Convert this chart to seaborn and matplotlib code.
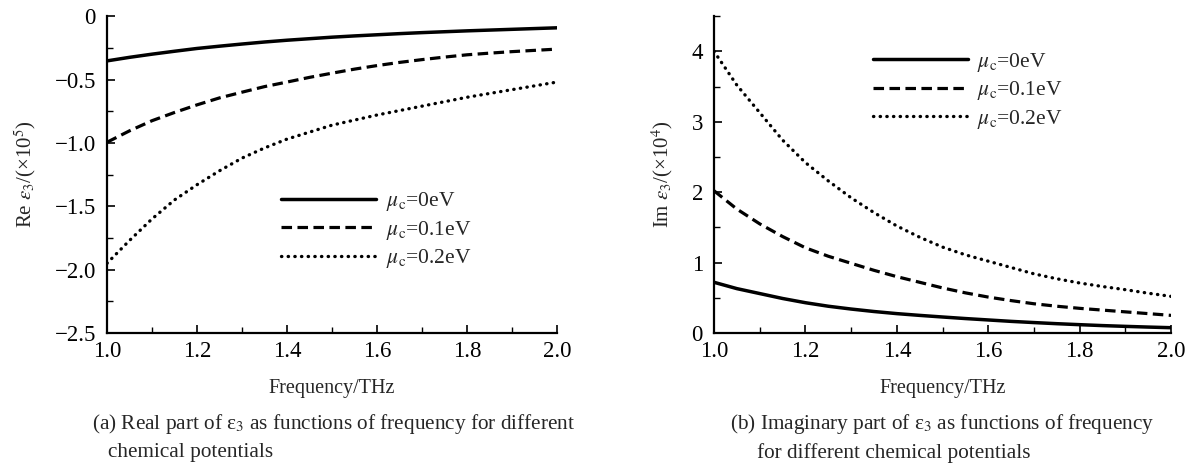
import numpy as np
import pandas as pd
import matplotlib
matplotlib.use("Agg")
import matplotlib.pyplot as plt
from matplotlib.ticker import MultipleLocator, FormatStrFormatter, FuncFormatter
import seaborn as sns

freq = [1.0, 1.05, 1.1, 1.15, 1.2, 1.25, 1.3, 1.35, 1.4, 1.45, 1.5,
        1.55, 1.6, 1.65, 1.7, 1.75, 1.8, 1.85, 1.9, 1.95, 2.0]
re_mu0 = [-0.353, -0.325, -0.30, -0.277, -0.255, -0.237, -0.22, -0.204, -0.19, -0.178, -0.166,
          -0.156, -0.147, -0.138, -0.130, -0.123, -0.116, -0.110, -0.104, -0.098, -0.092]
re_mu1 = [-0.995, -0.905, -0.825, -0.76, -0.70, -0.645, -0.60, -0.556, -0.52, -0.483, -0.45,
          -0.418, -0.39, -0.365, -0.343, -0.323, -0.305, -0.292, -0.28, -0.27, -0.26]
re_mu2 = [-1.95, -1.77, -1.60, -1.45, -1.33, -1.22, -1.12, -1.04, -0.97, -0.915, -0.86,
          -0.82, -0.78, -0.745, -0.71, -0.675, -0.64, -0.61, -0.58, -0.55, -0.52]
im_mu0 = [0.72, 0.63, 0.56, 0.49, 0.43, 0.38, 0.34, 0.305, 0.275, 0.25, 0.227,
          0.205, 0.185, 0.165, 0.148, 0.132, 0.118, 0.105, 0.094, 0.084, 0.075]
im_mu1 = [2.02, 1.76, 1.55, 1.37, 1.21, 1.09, 0.99, 0.89, 0.80, 0.72, 0.64,
          0.57, 0.51, 0.46, 0.415, 0.38, 0.35, 0.325, 0.30, 0.275, 0.25]
im_mu2 = [4.0, 3.52, 3.13, 2.74, 2.42, 2.16, 1.92, 1.71, 1.52, 1.36, 1.22,
          1.11, 1.02, 0.93, 0.84, 0.77, 0.71, 0.66, 0.615, 0.565, 0.52]
labels = [r"$\mu_{\rm c}$=0eV", r"$\mu_{\rm c}$=0.1eV", r"$\mu_{\rm c}$=0.2eV"]

sns.set_theme(style="ticks")
plt.rcParams["font.family"] = ["Liberation Serif", "DejaVu Serif"]
plt.rcParams["mathtext.fontset"] = "stix"
plt.rcParams["axes.unicode_minus"] = True

styles = [dict(linestyle="-", linewidth=2.5),
          dict(linestyle=(0, (3.3, 1.7)), linewidth=2.3),
          dict(linestyle=(0, (0.1, 1.9)), linewidth=2.4, dash_capstyle="round")]

fig = plt.figure(figsize=(11.97, 4.68), dpi=100)
ax1 = fig.add_axes([0.0894, 0.2885, 0.376, 0.677])
ax2 = fig.add_axes([0.5965, 0.2885, 0.3818, 0.677])

def draw(ax, series):
    for vals, lab, st in zip(series, labels, styles):
        df = pd.DataFrame({"f": freq, "v": vals})
        sns.lineplot(data=df, x="f", y="v", ax=ax, color="black", label=lab, **st)

draw(ax1, [re_mu0, re_mu1, re_mu2])
draw(ax2, [im_mu0, im_mu1, im_mu2])

for ax in (ax1, ax2):
    ax.set_xlim(1.0, 2.0)
    ax.xaxis.set_major_locator(MultipleLocator(0.2))
    ax.xaxis.set_minor_locator(MultipleLocator(0.1))
    ax.xaxis.set_major_formatter(FormatStrFormatter("%.1f"))
    for s in ("top", "right"):
        ax.spines[s].set_visible(False)
    for s in ("left", "bottom"):
        ax.spines[s].set_linewidth(1.6)
        ax.spines[s].set_color("black")
    ax.tick_params(which="major", direction="in", length=6, width=1.2, labelsize=16.5,
                   colors="black", pad=6)
    ax.tick_params(which="minor", direction="in", length=4, width=1.0, colors="black")
    ax.tick_params(axis="y", which="major", pad=8)
    ax.set_xlabel("Frequency/THz", fontsize=14.5, labelpad=12)

ax1.set_ylim(-2.5, 0)
ax1.yaxis.set_major_locator(MultipleLocator(0.5))
ax1.yaxis.set_minor_locator(MultipleLocator(0.25))
ax1.yaxis.set_major_formatter(FuncFormatter(
    lambda v, p: "0" if abs(v) < 1e-9 else ("%.1f" % v).replace("-", "\u2212")))
ax1.set_ylabel(r"Re $\varepsilon_3$/(×10$^5$)", fontsize=15, labelpad=12)

ax2.set_ylim(0, 4.5)
ax2.yaxis.set_major_locator(MultipleLocator(1))
ax2.yaxis.set_minor_locator(MultipleLocator(0.5))
ax2.set_ylabel(r"Im $\varepsilon_3$/(×10$^4$)", fontsize=15, labelpad=12)

leg_kw = dict(frameon=False, fontsize=15.5, handlelength=4.4, handletextpad=0.45,
              labelspacing=0.25, borderaxespad=0, borderpad=0, loc="upper left")
ax1.legend(bbox_to_anchor=(0.387, 0.45), **leg_kw)
ax2.legend(bbox_to_anchor=(0.348, 0.89), **leg_kw)

cap = 15.3
fig.text(0.077, 0.095, "(a) Real part of ε$_3$ as functions of frequency for different",
         fontsize=cap, ha="left", va="center")
fig.text(0.090, 0.033, "chemical potentials", fontsize=cap, ha="left", va="center")
fig.text(0.610, 0.095, "(b) Imaginary part of ε$_3$ as functions of frequency",
         fontsize=cap, ha="left", va="center")
fig.text(0.632, 0.033, "for different chemical potentials", fontsize=cap, ha="left", va="center")

fig.savefig("out.png", dpi=100)
